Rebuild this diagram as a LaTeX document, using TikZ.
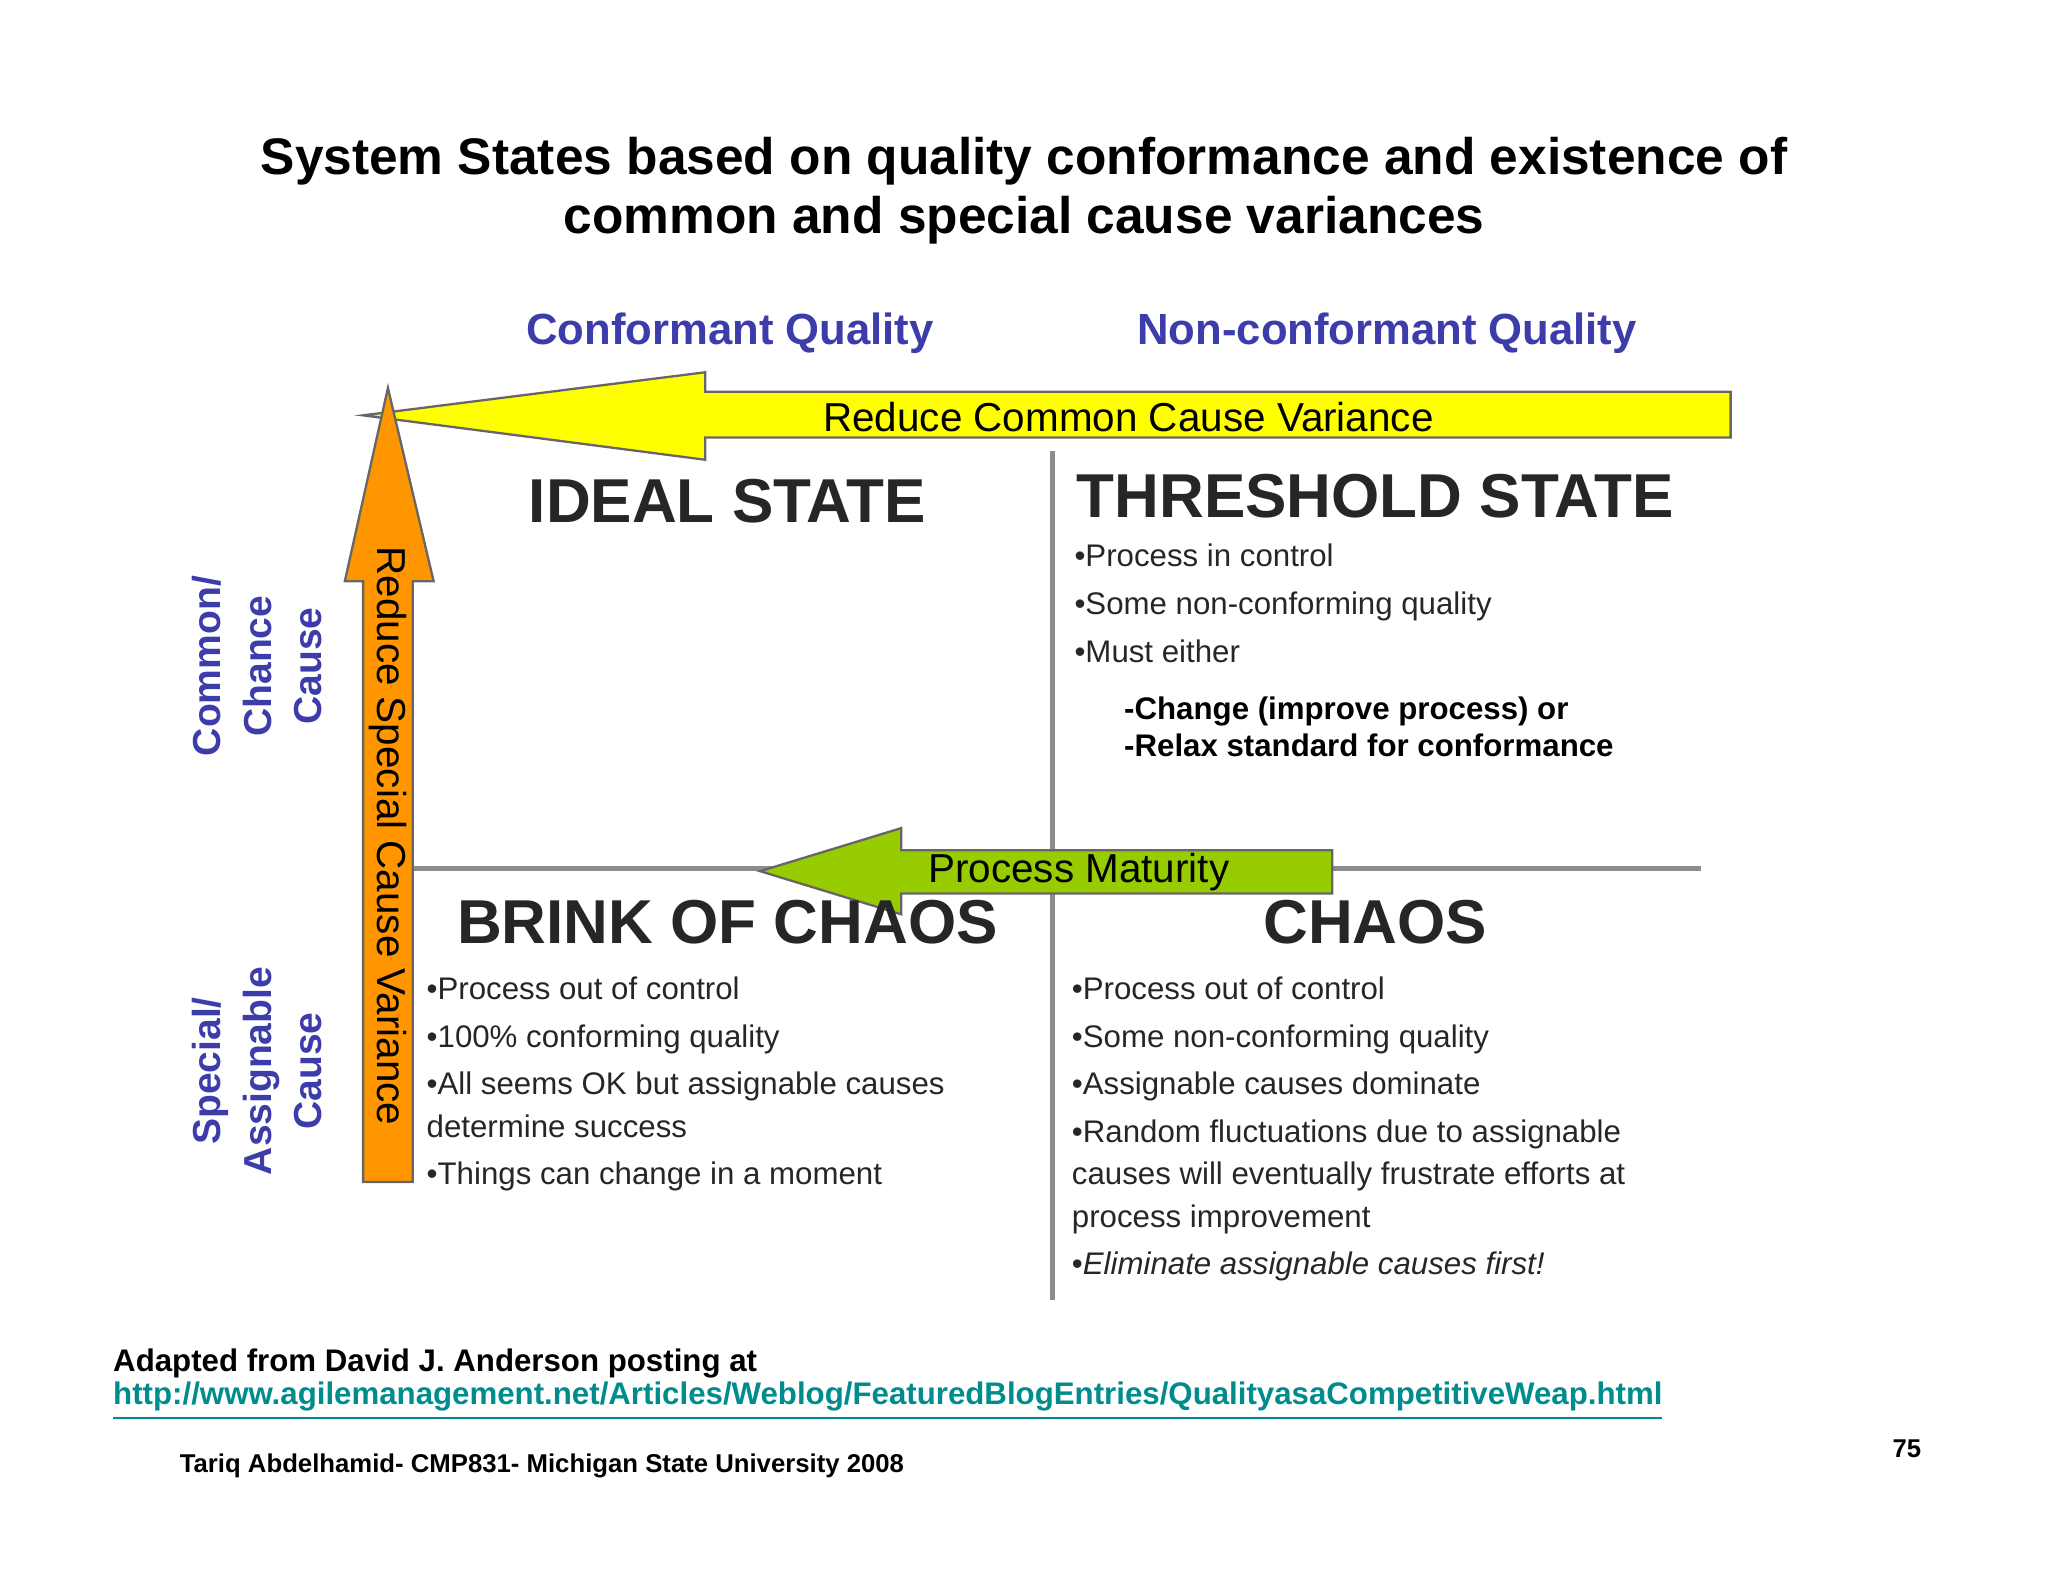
\documentclass[tikz,border=0pt]{standalone}
\usepackage{fontspec}
\setmainfont{Liberation Sans}
\definecolor{hdr}{RGB}{60,60,170}
\definecolor{lnk}{RGB}{0,140,140}
\definecolor{yel}{RGB}{255,255,0}
\definecolor{org}{RGB}{255,150,0}
\definecolor{grn}{RGB}{150,204,0}
\begin{document}
\begin{tikzpicture}[x=0.01cm,y=-0.01cm,
  title/.style={font=\bfseries\fontsize{11.2}{13}\selectfont,align=center},
  hdrtext/.style={text=hdr,font=\bfseries\fontsize{9.5}{11}\selectfont},
  state/.style={font=\bfseries\fontsize{13.5}{15}\selectfont,text=black!85},
  bul/.style={font=\fontsize{6.8}{9.2}\selectfont,align=left,anchor=north west,text=black!85,inner sep=0pt},
  side/.style={text=hdr,font=\bfseries\fontsize{8.5}{11}\selectfont,align=center,rotate=90},
  arr/.style={draw=black!60,line width=0.5pt},
  grid/.style={draw=black!45,line width=1.2pt},
  foot/.style={anchor=west,inner sep=0pt,font=\bfseries\fontsize{6.8}{8}\selectfont}]
\useasboundingbox (0,0) rectangle (1568,1211);
\node[title] (t) at (784,146) {System States based on quality conformance and existence of\\common and special cause variances};
\node[hdrtext] (h1) at (559,255) {Conformant Quality};
\node[hdrtext] (h2) at (1062,255) {Non-conformant Quality};
% grid
\draw[grid] (806,345) -- (806,995);
\draw[grid] (316,665) -- (1302,665);
% yellow arrow
\draw[arr,fill=yel] (278,318) -- (540,285) -- (540,300) -- (1325,300) -- (1325,335) -- (540,335) -- (540,352) -- cycle;
\node[font=\fontsize{8.8}{10}\selectfont] (ya) at (864,319) {Reduce Common Cause Variance};
% orange arrow
\draw[arr,fill=org] (297,297) -- (332,445) -- (316,445) -- (316,905) -- (278,905) -- (278,445) -- (264,445) -- cycle;
\node[font=\fontsize{8.8}{10}\selectfont,rotate=-90] (oa) at (297,640) {Reduce Special Cause Variance};
% states
\node[state] (s1) at (557,384) {IDEAL STATE};
\node[state] (s2) at (1053,380) {THRESHOLD STATE};
\node[state] (s4) at (1053,706) {CHAOS};
% green arrow
\draw[arr,fill=grn] (582,667) -- (690,634) -- (690,651) -- (1020,651) -- (1020,684) -- (690,684) -- (690,700) -- cycle;
\node[font=\fontsize{8.8}{10}\selectfont] (ga) at (826,668) {Process Maturity};
\node[state] (s3) at (557,706) {BRINK OF CHAOS};
% side labels
\node[side] (c1) at (197,510) {Common/\\Chance\\Cause};
\node[side] (c2) at (197,820) {Special/\\Assignable\\Cause};
% bullets
\node[bul] (b2) at (822,416) {•Process in control\\[1.2pt]•Some non-conforming quality\\[1.2pt]•Must either};
\node[bul,font=\bfseries\fontsize{6.8}{8}\selectfont,text=black] (b2b) at (860,533) {-Change (improve process) or\\-Relax standard for conformance};
\node[bul] (b3) at (326,747) {•Process out of control\\[1.2pt]•100\% conforming quality\\[1.2pt]•All seems OK but assignable causes\\determine success\\[1.2pt]•Things can change in a moment};
\node[bul] (b4) at (820,747) {•Process out of control\\[1.2pt]•Some non-conforming quality\\[1.2pt]•Assignable causes dominate\\[1.2pt]•Random fluctuations due to assignable\\causes will eventually frustrate efforts at\\process improvement\\[1.2pt]•\textit{Eliminate assignable causes first!}};
% footer
\node[foot] (f1) at (86,1044) {Adapted from David J. Anderson posting at};
\node[foot,text=lnk] (f2) at (86,1073) {\underline{http://www.agilemanagement.net/Articles/Weblog/FeaturedBlogEntries/QualityasaCompetitiveWeap.html}};
\node[foot,font=\bfseries\fontsize{5.6}{7}\selectfont] (f3) at (137,1122) {Tariq Abdelhamid- CMP831- Michigan State University 2008};
\node[font=\bfseries\fontsize{5.6}{7}\selectfont] (f4) at (1460,1109) {75};
\end{tikzpicture}
\end{document}
